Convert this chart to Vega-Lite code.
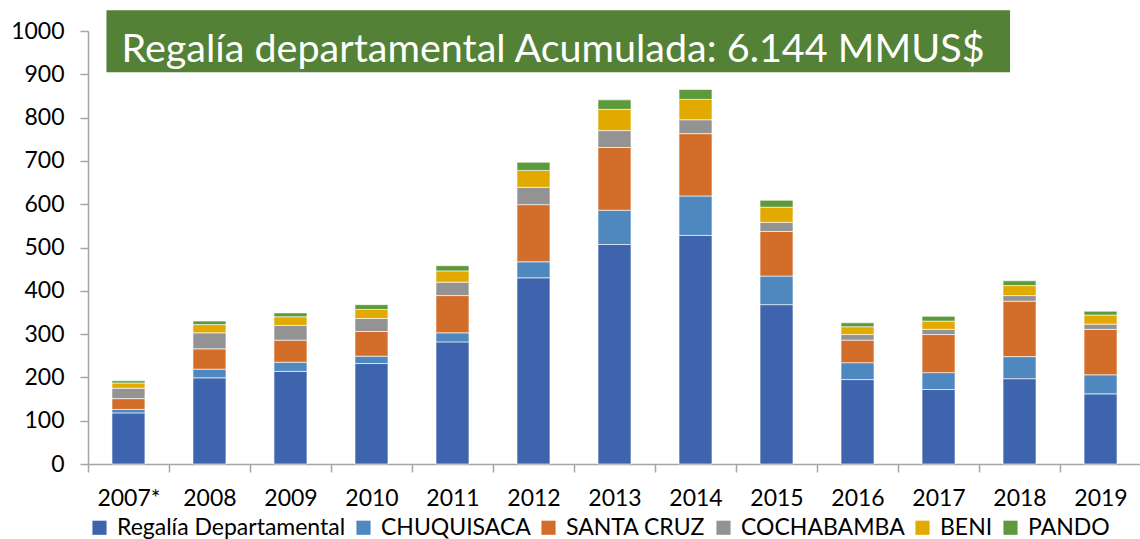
{
  "$schema": "https://vega.github.io/schema/vega-lite/v6.json",
  "width": 1053,
  "height": 433,
  "autosize": {"type": "none"},
  "padding": {"left": 88, "top": 31, "right": 0, "bottom": 75},
  "background": "white",
  "config": {
    "view": {"stroke": null},
    "font": "Lato",
    "axis": {"domainColor": "#a6a6a6", "tickColor": "#a6a6a6", "domainWidth": 1.5, "tickWidth": 1.5, "labelColor": "black", "labelFontSize": 23, "labelFont": "Lato", "tickSize": 8, "grid": false, "title": null}
  },
  "layer": [
    {
      "data": {"values": [
        {"anio": "2007*", "serie": "Regalía Departamental", "valor": 118},
        {"anio": "2007*", "serie": "CHUQUISACA", "valor": 8},
        {"anio": "2007*", "serie": "SANTA CRUZ", "valor": 25},
        {"anio": "2007*", "serie": "COCHABAMBA", "valor": 24},
        {"anio": "2007*", "serie": "BENI", "valor": 12},
        {"anio": "2007*", "serie": "PANDO", "valor": 5},
        {"anio": "2008", "serie": "Regalía Departamental", "valor": 199},
        {"anio": "2008", "serie": "CHUQUISACA", "valor": 20},
        {"anio": "2008", "serie": "SANTA CRUZ", "valor": 47},
        {"anio": "2008", "serie": "COCHABAMBA", "valor": 37},
        {"anio": "2008", "serie": "BENI", "valor": 19},
        {"anio": "2008", "serie": "PANDO", "valor": 8},
        {"anio": "2009", "serie": "Regalía Departamental", "valor": 214},
        {"anio": "2009", "serie": "CHUQUISACA", "valor": 21},
        {"anio": "2009", "serie": "SANTA CRUZ", "valor": 51},
        {"anio": "2009", "serie": "COCHABAMBA", "valor": 34},
        {"anio": "2009", "serie": "BENI", "valor": 20},
        {"anio": "2009", "serie": "PANDO", "valor": 9},
        {"anio": "2010", "serie": "Regalía Departamental", "valor": 232},
        {"anio": "2010", "serie": "CHUQUISACA", "valor": 17},
        {"anio": "2010", "serie": "SANTA CRUZ", "valor": 57},
        {"anio": "2010", "serie": "COCHABAMBA", "valor": 30},
        {"anio": "2010", "serie": "BENI", "valor": 21},
        {"anio": "2010", "serie": "PANDO", "valor": 11},
        {"anio": "2011", "serie": "Regalía Departamental", "valor": 282},
        {"anio": "2011", "serie": "CHUQUISACA", "valor": 21},
        {"anio": "2011", "serie": "SANTA CRUZ", "valor": 86},
        {"anio": "2011", "serie": "COCHABAMBA", "valor": 31},
        {"anio": "2011", "serie": "BENI", "valor": 26},
        {"anio": "2011", "serie": "PANDO", "valor": 12},
        {"anio": "2012", "serie": "Regalía Departamental", "valor": 430},
        {"anio": "2012", "serie": "CHUQUISACA", "valor": 37},
        {"anio": "2012", "serie": "SANTA CRUZ", "valor": 132},
        {"anio": "2012", "serie": "COCHABAMBA", "valor": 40},
        {"anio": "2012", "serie": "BENI", "valor": 39},
        {"anio": "2012", "serie": "PANDO", "valor": 19},
        {"anio": "2013", "serie": "Regalía Departamental", "valor": 507},
        {"anio": "2013", "serie": "CHUQUISACA", "valor": 79},
        {"anio": "2013", "serie": "SANTA CRUZ", "valor": 145},
        {"anio": "2013", "serie": "COCHABAMBA", "valor": 39},
        {"anio": "2013", "serie": "BENI", "valor": 49},
        {"anio": "2013", "serie": "PANDO", "valor": 22},
        {"anio": "2014", "serie": "Regalía Departamental", "valor": 528},
        {"anio": "2014", "serie": "CHUQUISACA", "valor": 91},
        {"anio": "2014", "serie": "SANTA CRUZ", "valor": 144},
        {"anio": "2014", "serie": "COCHABAMBA", "valor": 32},
        {"anio": "2014", "serie": "BENI", "valor": 47},
        {"anio": "2014", "serie": "PANDO", "valor": 23},
        {"anio": "2015", "serie": "Regalía Departamental", "valor": 368},
        {"anio": "2015", "serie": "CHUQUISACA", "valor": 66},
        {"anio": "2015", "serie": "SANTA CRUZ", "valor": 103},
        {"anio": "2015", "serie": "COCHABAMBA", "valor": 21},
        {"anio": "2015", "serie": "BENI", "valor": 35},
        {"anio": "2015", "serie": "PANDO", "valor": 16},
        {"anio": "2016", "serie": "Regalía Departamental", "valor": 195},
        {"anio": "2016", "serie": "CHUQUISACA", "valor": 39},
        {"anio": "2016", "serie": "SANTA CRUZ", "valor": 52},
        {"anio": "2016", "serie": "COCHABAMBA", "valor": 13},
        {"anio": "2016", "serie": "BENI", "valor": 18},
        {"anio": "2016", "serie": "PANDO", "valor": 9},
        {"anio": "2017", "serie": "Regalía Departamental", "valor": 172},
        {"anio": "2017", "serie": "CHUQUISACA", "valor": 39},
        {"anio": "2017", "serie": "SANTA CRUZ", "valor": 88},
        {"anio": "2017", "serie": "COCHABAMBA", "valor": 12},
        {"anio": "2017", "serie": "BENI", "valor": 19},
        {"anio": "2017", "serie": "PANDO", "valor": 11},
        {"anio": "2018", "serie": "Regalía Departamental", "valor": 197},
        {"anio": "2018", "serie": "CHUQUISACA", "valor": 51},
        {"anio": "2018", "serie": "SANTA CRUZ", "valor": 128},
        {"anio": "2018", "serie": "COCHABAMBA", "valor": 13},
        {"anio": "2018", "serie": "BENI", "valor": 23},
        {"anio": "2018", "serie": "PANDO", "valor": 11},
        {"anio": "2019", "serie": "Regalía Departamental", "valor": 162},
        {"anio": "2019", "serie": "CHUQUISACA", "valor": 44},
        {"anio": "2019", "serie": "SANTA CRUZ", "valor": 105},
        {"anio": "2019", "serie": "COCHABAMBA", "valor": 12},
        {"anio": "2019", "serie": "BENI", "valor": 21},
        {"anio": "2019", "serie": "PANDO", "valor": 9}
      ]},
      "transform": [
        {"calculate": "indexof(['Regalía Departamental', 'CHUQUISACA', 'SANTA CRUZ', 'COCHABAMBA', 'BENI', 'PANDO'], datum.serie)", "as": "orden"}
      ],
      "mark": {"type": "bar", "stroke": "white", "strokeWidth": 1, "strokeOpacity": 0.6},
      "encoding": {
        "x": {"field": "anio", "type": "nominal", "sort": null,
          "scale": {"paddingInner": 0.593, "paddingOuter": 0.296},
          "axis": {"labelAngle": 0, "labelPadding": 15, "tickOffset": -40.5, "labelOffset": 40.5}},
        "y": {"field": "valor", "type": "quantitative", "stack": "zero",
          "scale": {"domain": [0, 1000], "nice": false},
          "axis": {"values": [0, 100, 200, 300, 400, 500, 600, 700, 800, 900, 1000], "format": "d", "labelPadding": 16}},
        "order": {"field": "orden", "type": "quantitative", "sort": "ascending"},
        "color": {"field": "serie", "type": "nominal",
          "sort": ["Regalía Departamental", "CHUQUISACA", "SANTA CRUZ", "COCHABAMBA", "BENI", "PANDO"],
          "scale": {"domain": ["Regalía Departamental", "CHUQUISACA", "SANTA CRUZ", "COCHABAMBA", "BENI", "PANDO"],
            "range": ["#3E64AD", "#4E88BE", "#D36E2A", "#939393", "#E2AA00", "#5E9A3C"]},
          "legend": {"orient": "bottom", "direction": "horizontal", "title": null, "symbolType": "square", "symbolSize": 200, "symbolStrokeWidth": 0, "labelFontSize": 23, "labelFont": "Lato", "labelColor": "black", "columnPadding": 6, "labelOffset": 6, "offset": 6, "labelLimit": 0, "padding": 0}}
      }
    },
    {
      "data": {"values": [{}]},
      "mark": {"type": "rect", "color": "#538135", "xOffset": -22, "x2Offset": -9.5},
      "encoding": {
        "x": {"datum": "2007*", "type": "nominal"},
        "x2": {"datum": "2018"},
        "y": {"datum": 905, "type": "quantitative"},
        "y2": {"datum": 1048}
      }
    },
    {
      "data": {"values": [{}]},
      "mark": {"type": "text", "color": "white", "font": "Lato", "fontSize": 39.5, "align": "left", "baseline": "alphabetic", "xOffset": -7},
      "encoding": {
        "x": {"datum": "2007*", "type": "nominal"},
        "y": {"datum": 928, "type": "quantitative"},
        "text": {"value": "Regalía departamental Acumulada: 6.144 MMUS$"}
      }
    }
  ]
}
